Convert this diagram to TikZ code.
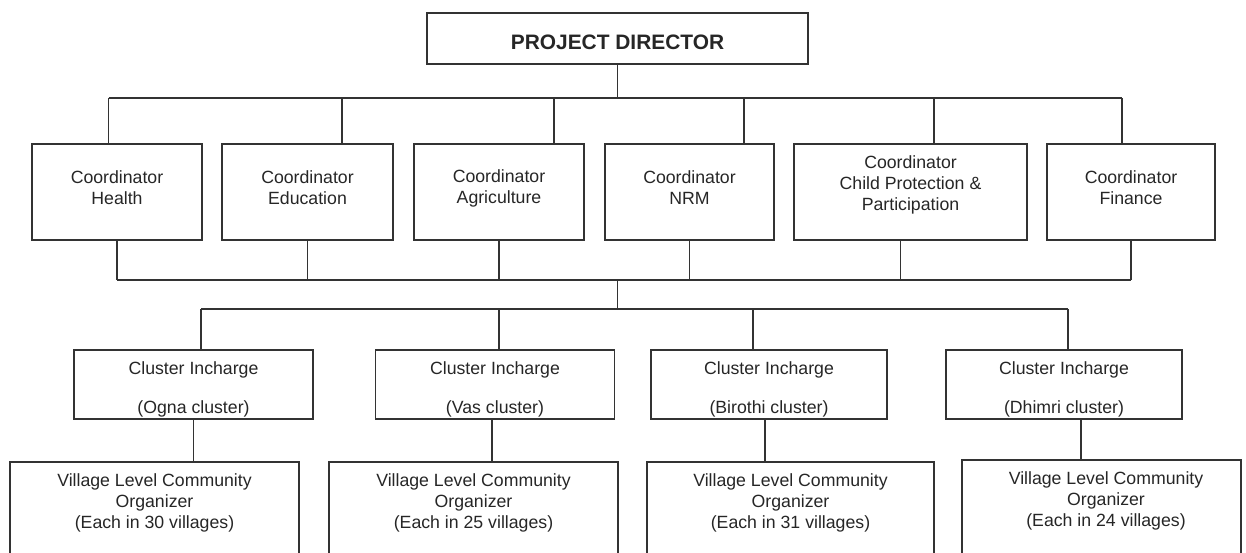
\documentclass[tikz,border=0pt]{standalone}
\usepackage{fontspec}
\setmainfont{Liberation Sans}
\usepackage{tikz}
\usetikzlibrary{positioning}

\begin{document}
\begin{tikzpicture}[
    x=1pt, y=-1pt,
    box/.style={rectangle, draw=black!80, line width=1.3pt, outer sep=0pt, inner sep=0pt},
    label/.style={font=\fontsize{17.7}{21}\selectfont, text=black!85, align=center},
    wire/.style={draw=black!80, line width=1.3pt}
]
\useasboundingbox (0,0) rectangle (1246,553);

% director
\node[box, minimum width=381pt, minimum height=51pt] (director) at (617.5,38.5) {};
\node[label, font=\fontsize{20.9}{25}\selectfont\bfseries] at (617.5,42) {PROJECT DIRECTOR};

% coordinators
\node[box, minimum width=170pt, minimum height=96pt] (health) at (117,192) {};
\node[label] at (117,188) {Coordinator\\Health};

\node[box, minimum width=171pt, minimum height=96pt] (education) at (307.5,192) {};
\node[label] at (307.5,188) {Coordinator\\Education};

\node[box, minimum width=170pt, minimum height=96pt] (agriculture) at (499,192) {};
\node[label] at (499,188) {Coordinator\\Agriculture};

\node[box, minimum width=169pt, minimum height=96pt] (nrm) at (689.5,192) {};
\node[label] at (689.5,188) {Coordinator\\NRM};

\node[box, minimum width=233pt, minimum height=96pt] (child) at (910.5,192) {};
\node[label] at (910.5,184.5) {Coordinator\\Child Protection \&\\Participation};

\node[box, minimum width=168pt, minimum height=96pt] (finance) at (1131,192) {};
\node[label] at (1131,188) {Coordinator\\Finance};

% clusters
\node[box, minimum width=239pt, minimum height=69pt] (ogna) at (193.5,384.5) {};
\node[label] at (193.5,389) {Cluster Incharge\\[18pt](Ogna cluster)};

\node[box, minimum width=239pt, minimum height=69pt] (vas) at (495,384.5) {};
\node[label] at (495,389) {Cluster Incharge\\[18pt](Vas cluster)};

\node[box, minimum width=236pt, minimum height=69pt] (birothi) at (769,384.5) {};
\node[label] at (769,389) {Cluster Incharge\\[18pt](Birothi cluster)};

\node[box, minimum width=236pt, minimum height=69pt] (dhimri) at (1064,384.5) {};
\node[label] at (1064,389) {Cluster Incharge\\[18pt](Dhimri cluster)};

% village organizers
\node[box, minimum width=289pt, minimum height=118pt] (villageA) at (154.5,521) {};
\node[label] at (154.5,502.5) {Village Level Community\\Organizer\\(Each in 30 villages)};

\node[box, minimum width=289pt, minimum height=118pt] (villageB) at (473.5,521) {};
\node[label] at (473.5,502.5) {Village Level Community\\Organizer\\(Each in 25 villages)};

\node[box, minimum width=287pt, minimum height=118pt] (villageC) at (790.5,521) {};
\node[label] at (790.5,502.5) {Village Level Community\\Organizer\\(Each in 31 villages)};

\node[box, minimum width=279pt, minimum height=120pt] (villageD) at (1101.5,520) {};
\node[label] at (1106,500.5) {Village Level Community\\Organizer\\(Each in 24 villages)};

% buses
\coordinate (topbus) at (0,98);
\coordinate (midbus) at (0,280);
\coordinate (lowbus) at (0,309);

\draw[wire] (director.south) -- (director.south |- topbus);
\draw[wire] ([xshift=-8.4pt]health.north |- topbus) -- ([xshift=-9pt]finance.north |- topbus);
\foreach \n/\dx in {health/-8.4, education/34.5, agriculture/55, nrm/54.5, child/23.5, finance/-9}
    \draw[wire] ([xshift=\dx pt]\n.north) -- ([xshift=\dx pt]\n.north |- topbus);

\draw[wire] (health.south |- midbus) -- (finance.south |- midbus);
\foreach \n/\dx in {health/0, education/0, agriculture/0, nrm/0, child/-10, finance/0}
    \draw[wire] ([xshift=\dx pt]\n.south) -- ([xshift=\dx pt]\n.south |- midbus);

\draw[wire] (director.south |- midbus) -- (director.south |- lowbus);
\draw[wire] ([xshift=7.5pt]ogna.north |- lowbus) -- ([xshift=4pt]dhimri.north |- lowbus);
\foreach \n/\dx in {ogna/7.5, vas/4, birothi/-16, dhimri/4}
    \draw[wire] ([xshift=\dx pt]\n.north) -- ([xshift=\dx pt]\n.north |- lowbus);

\foreach \n/\v/\dx in {ogna/villageA/0, vas/villageB/-3, birothi/villageC/-4, dhimri/villageD/17}
    \draw[wire] ([xshift=\dx pt]\n.south) -- ([xshift=\dx pt]\n.south |- \v.north);

\end{tikzpicture}
\end{document}
